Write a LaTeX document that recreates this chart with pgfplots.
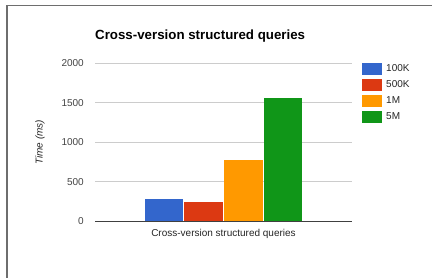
\documentclass[border=0pt]{standalone}
\usepackage{pgfplots}
\pgfplotsset{compat=1.18}
\usepackage{fontspec}
\setmainfont{Liberation Sans}
\definecolor{gblue}{HTML}{3366CC}
\definecolor{gred}{HTML}{DC3912}
\definecolor{gorange}{HTML}{FF9900}
\definecolor{ggreen}{HTML}{109618}
\definecolor{tickgray}{HTML}{444444}
\definecolor{gridgray}{HTML}{CCCCCC}
\definecolor{framegray}{HTML}{6E6E6E}
\begin{document}
\begin{tikzpicture}
\useasboundingbox (0,0) rectangle (432pt,278pt);
\fill[white] (0,0) rectangle (432pt,278pt);
\draw[framegray, line width=1.6pt] (6.8pt,0) -- (6.8pt,272.6pt) -- (432pt,272.6pt);
\begin{axis}[
  at={(95pt,56.7pt)}, anchor=south west,
  scale only axis, width=257pt, height=158.3pt,
  xmin=0, xmax=1, ymin=0, ymax=2000,
  ybar=1pt, bar width=38.5pt,
  xtick=\empty,
  ytick={0,500,1000,1500,2000},
  axis line style={draw=none},
  major tick length=0pt,
  ymajorgrids, major grid style={gridgray, line width=0.8pt},
  extra y ticks={0}, extra y tick labels={},
  extra y tick style={grid=major, major grid style={black!75, line width=1pt}},
  yticklabel style={font=\fontsize{10}{12}\selectfont, text=tickgray, inner sep=0pt, xshift=-11pt},
  /pgf/number format/assume math mode=true,
  /pgf/number format/1000 sep={},
  title={Cross-version structured queries},
  title style={at={(axis description cs:0,1.1137)}, anchor=base west, font=\fontsize{13.3}{15}\selectfont\bfseries, inner sep=0pt},
  xlabel={Cross-version structured queries},
  xlabel style={at={(axis description cs:0.5,-0.08)}, anchor=center, font=\fontsize{10}{12}\selectfont, text=black!85},
  ylabel={Time (ms)},
  ylabel style={at={(axis description cs:-0.214,0.5)}, anchor=center, font=\fontsize{10}{12}\selectfont\itshape, text=black!85},
  legend style={at={(axis description cs:1,1)}, anchor=north west, xshift=10pt, yshift=0pt, draw=none, fill=none, inner sep=0pt,
    font=\fontsize{10}{12}\selectfont, text=black!85, row sep=4pt, nodes={inner sep=1pt}},
  legend cell align=left,
  legend image code/.code={\fill[#1] (0pt,-6pt) rectangle (20pt,6pt); \path (23pt,0pt);},
]
\addplot[fill=gblue, draw=none] coordinates {(0.5,278)};
\addplot[fill=gred, draw=none] coordinates {(0.5,248)};
\addplot[fill=gorange, draw=none] coordinates {(0.5,778)};
\addplot[fill=ggreen, draw=none] coordinates {(0.5,1556)};
\legend{100K,500K,1M,5M}
\end{axis}
\end{tikzpicture}
\end{document}
